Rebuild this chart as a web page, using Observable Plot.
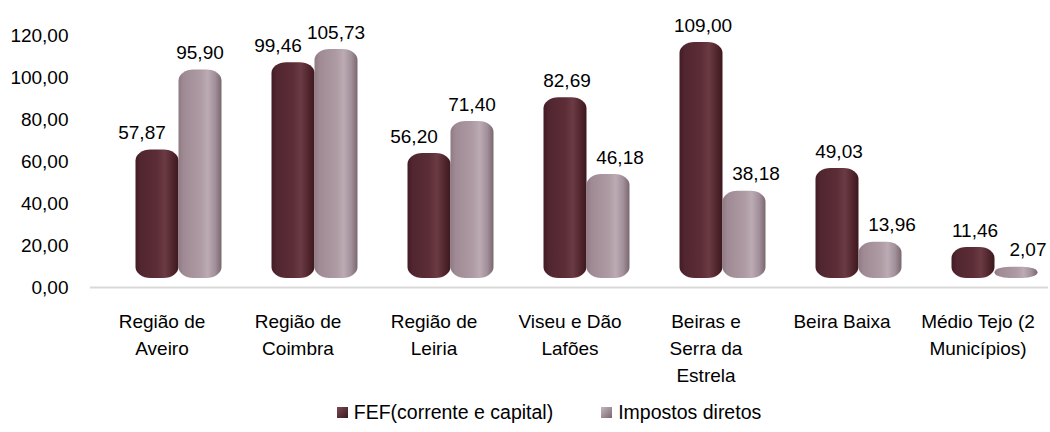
<!DOCTYPE html>
<html>
<head>
<meta charset="utf-8">
<script src="https://cdn.jsdelivr.net/npm/d3@7"></script>
<script src="https://cdn.jsdelivr.net/npm/@observablehq/plot@0.6"></script>
<style>
  body { margin: 0; background: #fff; font-family: "Liberation Sans", Arial, sans-serif; }
  #legend { height: 40px; display: flex; align-items: center; justify-content: center; padding-left: 48px; font-size: 19.5px; color: #000; gap: 48px; }
  #legend .item { display: flex; align-items: center; gap: 6px; }
  #legend .sw { width: 11px; height: 11px; display: inline-block; }
</style>
</head>
<body>
<div id="chart"></div>
<div id="legend"></div>
<script>
const categories = ["Região de\nAveiro", "Região de\nCoimbra", "Região de\nLeiria", "Viseu e Dão\nLafões", "Beiras e\nSerra da\nEstrela", "Beira Baixa", "Médio Tejo (2\nMunicípios)"];
const fef = [57.87, 99.46, 56.20, 82.69, 109.00, 49.03, 11.46];
const impostos = [95.90, 105.73, 71.40, 46.18, 38.18, 13.96, 2.07];
const seriesNames = ["FEF(corrente e capital)", "Impostos diretos"];
const yTicks = [0, 20, 40, 60, 80, 100, 120];

const fefColor = "#5a2b34";
const impColor = "#a8949e";

const rows = categories.map((c, i) => ({region: c, fef: fef[i], imp: impostos[i]}));
const fmt = v => v.toFixed(2).replace(".", ",");

const svg = Plot.plot({
  width: 1050,
  height: 392,
  marginTop: 35,
  marginBottom: 105,
  marginLeft: 90,
  marginRight: 2,
  style: {fontFamily: "'Liberation Sans', Arial, sans-serif", fontSize: "19px", color: "#000", background: "#fff"},
  x: {domain: categories, paddingInner: 0.686, paddingOuter: 0.34, label: null},
  y: {domain: [0, 120], label: null},
  marks: [
    Plot.ruleY([0], {stroke: "#d9d9d9", strokeWidth: 2}),
    Plot.barY(rows, {x: "region", y: "fef", dx: -4.5, dy: -9, insetTop: -7, rx: 15, ry: 11, fill: fefColor}),
    Plot.barY(rows, {x: "region", y: "imp", dx: 38.5, dy: -9, insetTop: -7, rx: 15, ry: 11, fill: impColor}),
    Plot.text(rows.filter(d => d.fef < d.imp), {x: "region", y: "fef", text: d => fmt(d.fef), dx: -20, dy: -33, fontSize: 19, fill: "#000"}),
    Plot.text(rows.filter(d => d.fef >= d.imp), {x: "region", y: "fef", text: d => fmt(d.fef), dx: -3, dy: -33, fontSize: 19, fill: "#000"}),
    Plot.text(rows.filter(d => d.imp < d.fef), {x: "region", y: "imp", text: d => fmt(d.imp), dx: 50, dy: -33, fontSize: 19, fill: "#000"}),
    Plot.text(rows.filter(d => d.imp >= d.fef), {x: "region", y: "imp", text: d => fmt(d.imp), dx: 38, dy: -33, fontSize: 19, fill: "#000"}),
    Plot.axisX({tickSize: 0, tickPadding: 21, fontSize: 19, lineHeight: 1.42, label: null, fill: "#000"}),
    Plot.axisY({ticks: yTicks, tickFormat: fmt, tickSize: 0, tickPadding: 22, fontSize: 19, label: null, fill: "#000"})
  ]
});

// cylinder-like shading
const ns = "http://www.w3.org/2000/svg";
const defs = document.createElementNS(ns, "defs");
function grad(id, stops) {
  const g = document.createElementNS(ns, "linearGradient");
  g.setAttribute("id", id);
  g.setAttribute("x1", "0"); g.setAttribute("x2", "1"); g.setAttribute("y1", "0"); g.setAttribute("y2", "0");
  stops.forEach(([o, c]) => {
    const s = document.createElementNS(ns, "stop");
    s.setAttribute("offset", o); s.setAttribute("stop-color", c);
    g.appendChild(s);
  });
  defs.appendChild(g);
}
grad("gFef", [[0, "#421c23"], [0.12, "#512630"], [0.5, "#5c2d36"], [0.68, "#6b3b44"], [0.85, "#54272f"], [1, "#3c181e"]]);
grad("gImp", [[0, "#8f7a84"], [0.12, "#a08b95"], [0.5, "#ad9aa3"], [0.68, "#bcabb3"], [0.85, "#a2909a"], [1, "#7a6770"]]);
svg.insertBefore(defs, svg.firstChild);
svg.querySelectorAll(`g[fill="${fefColor}"]`).forEach(g => g.setAttribute("fill", "url(#gFef)"));
svg.querySelectorAll(`g[fill="${impColor}"]`).forEach(g => g.setAttribute("fill", "url(#gImp)"));

document.getElementById("chart").appendChild(svg);

const legend = document.getElementById("legend");
[["linear-gradient(135deg, #7a4a53, #3c181e)", seriesNames[0]], ["linear-gradient(135deg, #c7b7bf, #7a6770)", seriesNames[1]]].forEach(([bg, name]) => {
  const it = document.createElement("span");
  it.className = "item";
  const sw = document.createElement("span");
  sw.className = "sw";
  sw.style.background = bg;
  it.appendChild(sw);
  it.appendChild(document.createTextNode(name));
  legend.appendChild(it);
});
</script>
</body>
</html>
